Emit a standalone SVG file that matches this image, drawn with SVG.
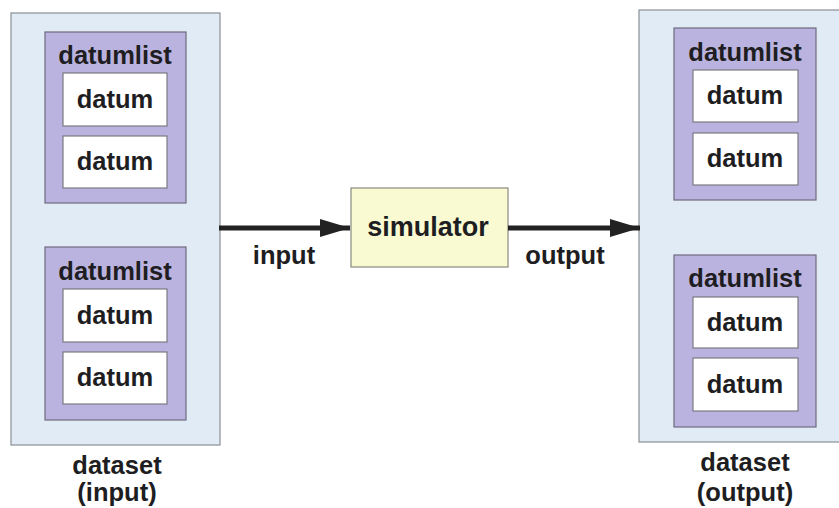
<svg xmlns="http://www.w3.org/2000/svg" width="839" height="508" viewBox="0 0 839 508">
<style>
.ds{fill:#e0ebf5;stroke:#8a8f94;stroke-width:1.2}
.dl{fill:#bbb3df;stroke:#6e6a80;stroke-width:1.2}
.dm{fill:#ffffff;stroke:#7a7a82;stroke-width:1.2}
.sim{fill:#fafad2;stroke:#8a8a80;stroke-width:1.2}
text{font-family:"Liberation Sans",Arial,sans-serif;font-weight:bold;fill:#1e1e22;text-anchor:middle}
.t{font-size:25.5px}
.tl{font-size:25.5px}
.lbl{font-size:25.5px}
.sl{font-size:27px}
.conn{stroke:#222;stroke-width:5;fill:none}
</style>
<defs>
<marker id="ah" markerUnits="userSpaceOnUse" markerWidth="32" markerHeight="22" refX="30" refY="11" orient="auto">
<path d="M0,2 L30,11 L0,20 Z" fill="#222"/>
</marker>
</defs>
<rect width="839" height="508" fill="#ffffff"/>
<g id="dataset-input">
<rect class="ds" x="11" y="13" width="209" height="432"/>
<text class="lbl" x="117" y="474">dataset</text>
<text class="lbl" x="117" y="501">(input)</text>
</g>
<g id="datumlist-in-1">
<rect class="dl" x="45" y="32" width="141" height="171"/>
<text class="tl" x="115" y="64">datumlist</text>
</g>
<g id="datum-in-1"><rect class="dm" x="63" y="73" width="104" height="53"/><text class="t" x="115" y="108">datum</text></g>
<g id="datum-in-2"><rect class="dm" x="63" y="136" width="104" height="52"/><text class="t" x="115" y="170">datum</text></g>
<g id="datumlist-in-2">
<rect class="dl" x="45" y="247" width="141" height="173"/>
<text class="tl" x="115" y="280">datumlist</text>
</g>
<g id="datum-in-3"><rect class="dm" x="63" y="289" width="104" height="53"/><text class="t" x="115" y="324">datum</text></g>
<g id="datum-in-4"><rect class="dm" x="63" y="352" width="104" height="52"/><text class="t" x="115" y="386">datum</text></g>
<g id="simulator">
<rect class="sim" x="351" y="188" width="157" height="79"/>
<text class="sl" x="428" y="236">simulator</text>
</g>
<g id="dataset-output">
<rect class="ds" x="639" y="10" width="205" height="432"/>
<text class="lbl" x="745" y="471">dataset</text>
<text class="lbl" x="745" y="501">(output)</text>
</g>
<g id="datumlist-out-1">
<rect class="dl" x="674" y="28" width="142" height="172"/>
<text class="tl" x="745" y="61">datumlist</text>
</g>
<g id="datum-out-1"><rect class="dm" x="693" y="70" width="105" height="52"/><text class="t" x="745" y="104">datum</text></g>
<g id="datum-out-2"><rect class="dm" x="693" y="133" width="105" height="52"/><text class="t" x="745" y="167">datum</text></g>
<g id="datumlist-out-2">
<rect class="dl" x="674" y="255" width="142" height="172"/>
<text class="tl" x="745" y="287">datumlist</text>
</g>
<g id="datum-out-3"><rect class="dm" x="693" y="297" width="105" height="51"/><text class="t" x="745" y="331">datum</text></g>
<g id="datum-out-4"><rect class="dm" x="693" y="358" width="105" height="53"/><text class="t" x="745" y="393">datum</text></g>
<g id="connectors">
<line class="conn" x1="219" y1="228" x2="350" y2="228" marker-end="url(#ah)"/>
<text class="lbl" x="284" y="264">input</text>
<line class="conn" x1="508" y1="228" x2="640" y2="228" marker-end="url(#ah)"/>
<text class="lbl" x="565" y="264">output</text>
</g>
</svg>
